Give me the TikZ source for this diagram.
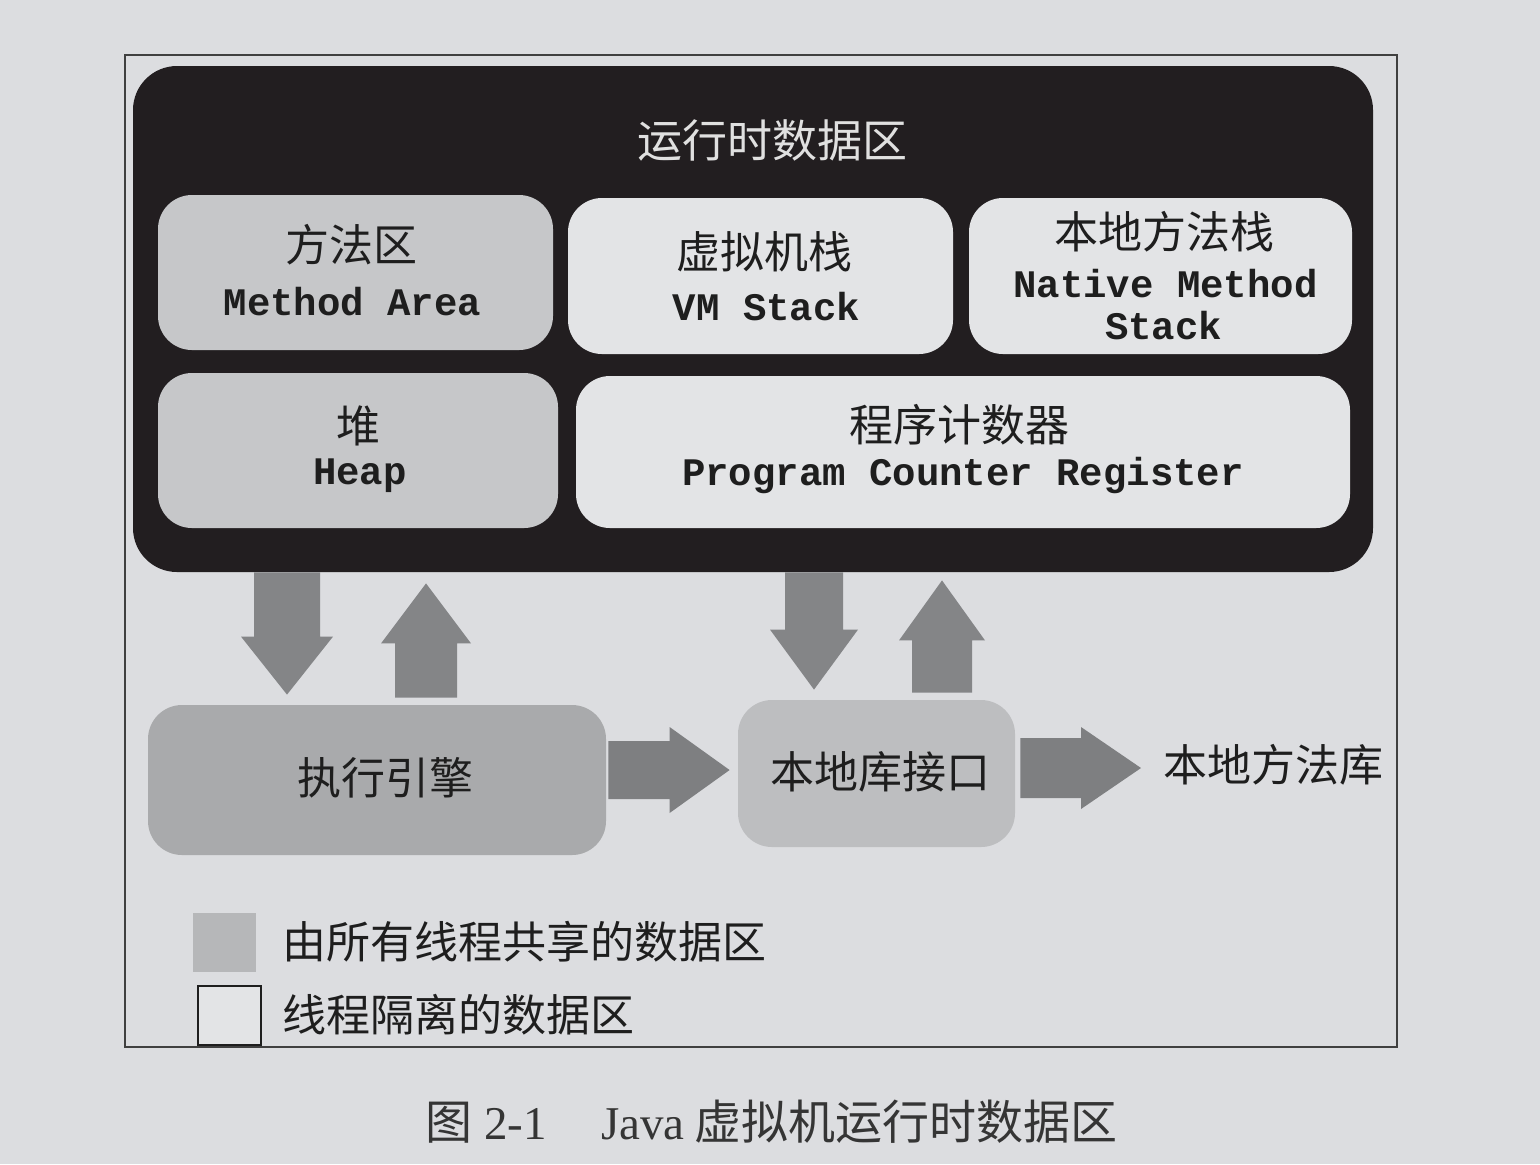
\documentclass[tikz,border=0pt]{standalone}
\usepackage{fontspec}
\setmainfont{Liberation Serif}
\newfontfamily\cjk{Noto Sans CJK SC}
\newfontfamily\monof{Liberation Mono}
\usetikzlibrary{calc}
\definecolor{pagebg}{HTML}{DCDDE0}
\definecolor{darkbg}{HTML}{221E20}
\definecolor{shared}{HTML}{C6C7C9}
\definecolor{isol}{HTML}{E3E4E6}
\definecolor{execc}{HTML}{A9AAAC}
\definecolor{nic}{HTML}{BDBEC0}
\definecolor{arrc}{HTML}{848587}
\definecolor{arrh}{HTML}{7E7F81}
\definecolor{inkc}{HTML}{1E1E1E}
\newcommand\blockarr[6]{%
  \coordinate (#6h) at ($(#2)!#5!(#1)$);
  \fill[arrc] ($(#1)!#3!90:(#2)$) -- ($(#6h)!#3!90:(#2)$) -- ($(#6h)!#4!90:(#2)$)
    -- (#2) -- ($(#6h)!#4!-90:(#2)$) -- ($(#6h)!#3!-90:(#2)$) -- ($(#1)!#3!-90:(#2)$) -- cycle;}
\begin{document}
\begin{tikzpicture}[x=0.5pt,y=-0.5pt,
  zh/.style={font=\cjk\fontsize{22}{26}\selectfont, text=inkc, inner sep=0pt},
  en/.style={font=\monof\bfseries\fontsize{19.5}{22}\selectfont, text=inkc, inner sep=0pt},
  area/.style={rounded corners=17pt, inner sep=0pt, draw=none},
  sharedbox/.style={area, fill=shared},
  isobox/.style={area, fill=isol}]
\useasboundingbox (0,0) rectangle (1540,1164);
\fill[pagebg] (0,0) rectangle (1540,1164);
\draw[line width=1pt, draw=inkc!85] (125,55) rectangle (1397,1047);
% runtime data area
\node[rounded corners=22pt, fill=darkbg, minimum width=620pt, minimum height=253pt, inner sep=0pt] (dark) at (753,319) {};
\node[font=\cjk\fontsize{22.5}{26}\selectfont, text=white!88!black, inner sep=0pt] (title) at (772,140) {运行时数据区};
\node[sharedbox, minimum width=197.5pt, minimum height=77.5pt] (ma) at (355.5,272.5) {};
\node[isobox, minimum width=192.5pt, minimum height=78pt] (vm) at (760.5,276) {};
\node[isobox, minimum width=191.5pt, minimum height=78pt] (nm) at (1160.5,276) {};
\node[sharedbox, minimum width=200pt, minimum height=77.5pt] (heap) at (358,450.5) {};
\node[isobox, minimum width=387pt, minimum height=76pt] (pc) at (963,452) {};
\node[zh] (ma1) at ($(ma.center)+(-4,-28)$) {方法区};
\node[en] (ma2) at ($(ma.center)+(-3,29)$) {Method Area};
\node[zh] (vm1) at ($(vm.center)+(4,-24)$) {虚拟机栈};
\node[en] (vm2) at ($(vm.center)+(6,31)$) {VM Stack};
\node[zh] (nm1) at ($(nm.center)+(4,-44)$) {本地方法栈};
\node[en] (nm2) at ($(nm.center)+(5,8)$) {Native Method};
\node[en] (nm3) at ($(nm.center)+(3,50)$) {Stack};
\node[zh] (hp1) at ($(heap.center)+(0,-25)$) {堆};
\node[en] (hp2) at ($(heap.center)+(2,25)$) {Heap};
\node[zh] (pc1) at ($(pc.center)+(-4,-27)$) {程序计数器};
\node[en] (pc2) at ($(pc.center)+(0,23)$) {Program Counter Register};
% lower part
\node[area, fill=execc, minimum width=229pt, minimum height=75pt] (exec) at (377,780) {};
\node[area, fill=nic, minimum width=138.5pt, minimum height=73.5pt] (ni) at (876.5,773.5) {};
\node[zh] (exect) at (385,778) {执行引擎};
\node[zh] (nit) at (880,772) {本地库接口};
\node[zh, anchor=west] (lib) at (1163,765) {本地方法库};
% arrows
\coordinate (xd1) at (287,0);
\coordinate (xu1) at (426,0);
\coordinate (xd2) at (814,0);
\coordinate (xu2) at (942,0);
\coordinate (yr1) at (0,770);
\coordinate (yr2) at (0,768);
\coordinate (d1s) at (dark.south -| xd1);
\coordinate (d1t) at ($(exec.north -| xd1)+(0,-10)$);
\coordinate (u1s) at ($(exec.north -| xu1)+(0,-7)$);
\coordinate (u1t) at ($(dark.south -| xu1)+(0,11)$);
\coordinate (d2s) at (dark.south -| xd2);
\coordinate (d2t) at ($(ni.north -| xd2)+(0,-10)$);
\coordinate (u2s) at ($(ni.north -| xu2)+(0,-7)$);
\coordinate (u2t) at ($(dark.south -| xu2)+(0,8)$);
\coordinate (r1s) at ($(exec.east |- yr1)+(2,0)$);
\coordinate (r1t) at ($(ni.west |- yr1)+(-8,0)$);
\coordinate (r2s) at ($(ni.east |- yr2)+(5,0)$);
\coordinate (r2t) at ($(lib.west |- yr2)+(-22,0)$);
\blockarr{d1s}{d1t}{16.5pt}{23pt}{29pt}{ad1}
\blockarr{u1s}{u1t}{15.5pt}{22.5pt}{30pt}{au1}
\blockarr{d2s}{d2t}{14.5pt}{22pt}{30pt}{ad2}
\blockarr{u2s}{u2t}{15pt}{21.5pt}{30pt}{au2}
\colorlet{arrc}{arrh}
\blockarr{r1s}{r1t}{14.5pt}{21.5pt}{30pt}{ar1}
\blockarr{r2s}{r2t}{15pt}{20.5pt}{30pt}{ar2}
% legend
\node[fill=shared!92!black, minimum width=31.5pt, minimum height=29.5pt, inner sep=0pt] (lg1) at (224.5,942.5) {};
\node[fill=isol, draw=inkc, line width=1pt, minimum width=31.5pt, minimum height=29.5pt, inner sep=0pt] (lg2) at (229,1015.5) {};
\node[zh, anchor=west] (lt1) at (282,942) {由所有线程共享的数据区};
\node[zh, anchor=west] (lt2) at (282,1015) {线程隔离的数据区};
% caption
\node[font=\fontsize{23.5}{26}\selectfont, text=inkc!90, inner sep=0pt, anchor=west] (cap) at (425,1122) {{\cjk 图}\hspace{6pt}2-1\hspace{27pt}Java\hspace{5pt}{\cjk 虚拟机运行时数据区}};
\end{tikzpicture}
\end{document}
